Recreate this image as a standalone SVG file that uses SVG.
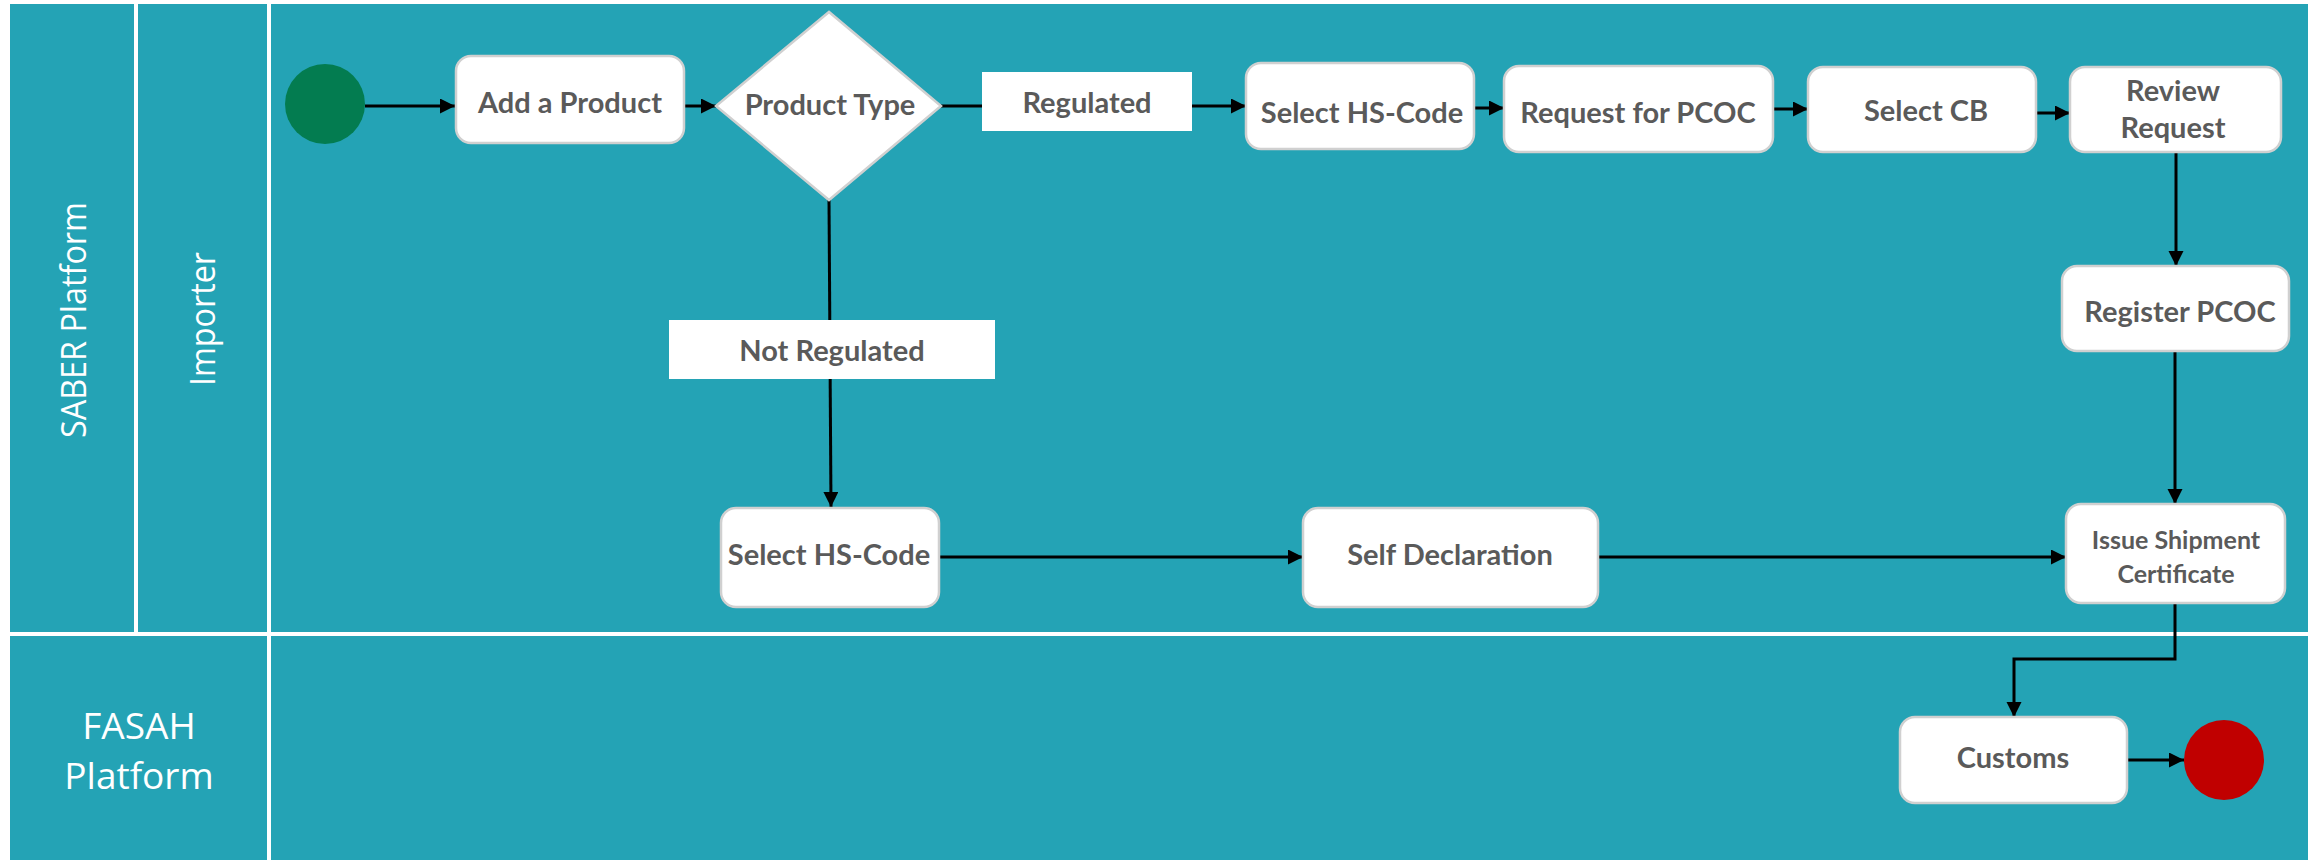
<svg xmlns="http://www.w3.org/2000/svg" width="2308" height="860" viewBox="0 0 2308 860">
<style>
.lane{fill:#24A3B5}
.sep{stroke:#FFFFFF;stroke-width:4;fill:none}
.lanelbl{font-family:"Open Sans","DejaVu Sans",sans-serif;font-size:35px;fill:#FFFFFF;text-anchor:middle}
.big{font-size:37px}
.box{fill:#FFFFFF;stroke:#D0D0D0;stroke-width:2.5}
.lbl{fill:#FFFFFF}
.t{font-family:Lato,"Open Sans",sans-serif;font-weight:bold;font-size:29px;fill:#5A5A5A;text-anchor:middle}
.ts{font-size:25px}
.edge{stroke:#000000;stroke-width:3;fill:none}
.arr{marker-end:url(#ah)}
</style>
<defs>
<marker id="ah" markerUnits="userSpaceOnUse" markerWidth="16" markerHeight="16" refX="15" refY="7.5" orient="auto">
<path d="M0,0 L15,7.5 L0,15 Z" fill="#000000"/>
</marker>
</defs>
<rect x="0" y="0" width="2308" height="860" fill="#FFFFFF"/>
<g id="lanes">
<rect class="lane" x="10" y="4" width="2298" height="856"/>
<line class="sep" x1="136" y1="4" x2="136" y2="634"/>
<line class="sep" x1="269" y1="4" x2="269" y2="860"/>
<line class="sep" x1="10" y1="634" x2="2308" y2="634"/>
<text class="lanelbl" transform="translate(86,320) rotate(-90)" textLength="236" lengthAdjust="spacingAndGlyphs">SABER Platform</text>
<text class="lanelbl" transform="translate(215,319) rotate(-90)" textLength="134" lengthAdjust="spacingAndGlyphs">Importer</text>
<text class="lanelbl big" x="139" y="739">FASAH</text>
<text class="lanelbl big" x="139" y="789">Platform</text>
</g>
<g id="connectors">
<path class="edge arr" d="M365,106 H455"/>
<path class="edge arr" d="M684,106 H716"/>
<path class="edge" d="M941,106 H982"/>
<path class="edge arr" d="M1192,106 H1246"/>
<path class="edge arr" d="M1474,108 H1504"/>
<path class="edge arr" d="M1773,109 H1808"/>
<path class="edge arr" d="M2033,113 H2070"/>
<path class="edge arr" d="M2176,153 V266"/>
<path class="edge arr" d="M2175,351 V504"/>
<path class="edge arr" d="M829,200 L831,507"/>
<path class="edge arr" d="M939,557 H1303"/>
<path class="edge arr" d="M1598,557 H2066"/>
<path class="edge arr" d="M2175,603 V659 H2014 V717"/>
<path class="edge arr" d="M2127,760 H2184"/>
</g>
<g id="start"><circle cx="325" cy="104" r="40" fill="#037C50"/></g>
<g id="add_product"><rect class="box" x="456" y="56" width="228" height="87" rx="15"/><text class="t" x="570" y="113">Add a Product</text></g>
<g id="product_type"><polygon class="box" points="716,106 829,12 941,106 829,200"/><text class="t" x="830" y="115">Product Type</text></g>
<g id="label_regulated"><rect class="lbl" x="982" y="72" width="210" height="59"/><text class="t" x="1087" y="113">Regulated</text></g>
<g id="select_hs_code_1"><rect class="box" x="1246" y="63" width="228" height="86" rx="15"/><text class="t" x="1362" y="123">Select HS-Code</text></g>
<g id="request_pcoc"><rect class="box" x="1504" y="66" width="269" height="86" rx="15"/><text class="t" x="1638" y="123">Request for PCOC</text></g>
<g id="select_cb"><rect class="box" x="1808" y="67" width="228" height="85" rx="15"/><text class="t" x="1926" y="121">Select CB</text></g>
<g id="review_request"><rect class="box" x="2070" y="67" width="211" height="85" rx="15"/><text class="t" x="2173" y="101">Review</text><text class="t" x="2173" y="138">Request</text></g>
<g id="register_pcoc"><rect class="box" x="2062" y="266" width="227" height="85" rx="15"/><text class="t" x="2180" y="322">Register PCOC</text></g>
<g id="label_not_regulated"><rect class="lbl" x="669" y="320" width="326" height="59"/><text class="t" x="832" y="361">Not Regulated</text></g>
<g id="select_hs_code_2"><rect class="box" x="721" y="508" width="218" height="99" rx="15"/><text class="t" x="829" y="565">Select HS-Code</text></g>
<g id="self_declaration"><rect class="box" x="1303" y="508" width="295" height="99" rx="15"/><text class="t" x="1450" y="565">Self Declaration</text></g>
<g id="issue_certificate"><rect class="box" x="2066" y="504" width="219" height="99" rx="15"/><text class="t ts" x="2176" y="549">Issue Shipment</text><text class="t ts" x="2176" y="583">Certificate</text></g>
<g id="customs"><rect class="box" x="1900" y="717" width="227" height="86" rx="15"/><text class="t" x="2013" y="768">Customs</text></g>
<g id="end"><circle cx="2224" cy="760" r="40" fill="#C00000"/></g>
</svg>
